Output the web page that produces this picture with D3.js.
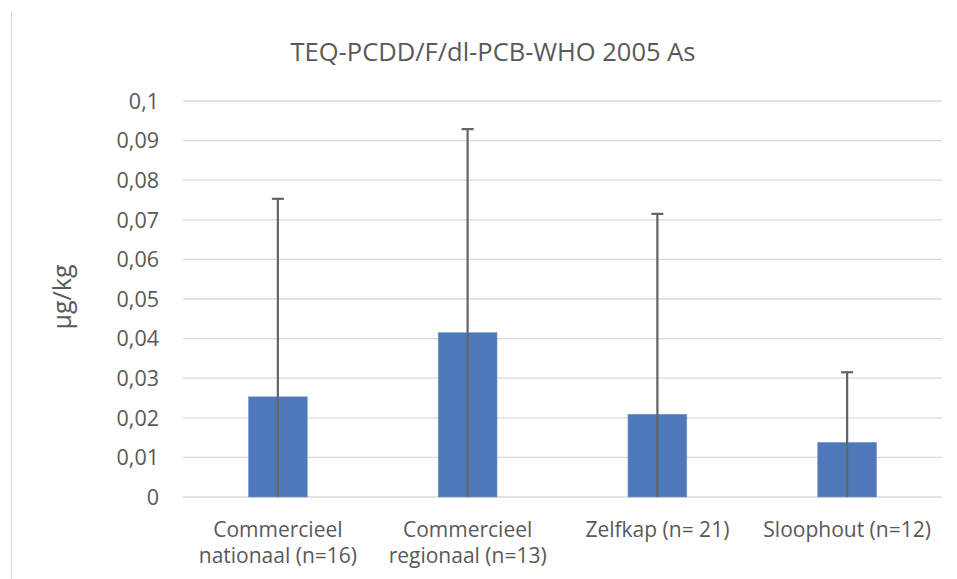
<!DOCTYPE html>
<html>
<head>
  <meta charset="utf-8">
  <script src="https://d3js.org/d3.v7.min.js"></script>
  <style>
    body { margin: 0; background: #fff; overflow: hidden; }
    text { font-family: "Open Sans", "Noto Sans", sans-serif; fill: #595959; }
  </style>
</head>
<body>
  <script>
    const categories = [
      ["Commercieel", "nationaal (n=16)"],
      ["Commercieel", "regionaal (n=13)"],
      ["Zelfkap (n= 21)"],
      ["Sloophout (n=12)"]
    ];
    const means = [0.0253, 0.0415, 0.0209, 0.0138];
    const upper = [0.0753, 0.0929, 0.0715, 0.0315];
    const yTicks = [0, 0.01, 0.02, 0.03, 0.04, 0.05, 0.06, 0.07, 0.08, 0.09, 0.1];

    const width = 957, height = 579;
    const margin = { top: 101, right: 15, bottom: 82, left: 183 };

    const svg = d3.select("body").append("svg")
      .attr("width", width)
      .attr("height", height);

    // faint border on the left
    svg.append("line")
      .attr("x1", 11.5).attr("x2", 11.5)
      .attr("y1", 12).attr("y2", height)
      .attr("stroke", "#d9d9d9")
      .attr("stroke-width", 1);

    const x = d3.scaleBand()
      .domain(d3.range(categories.length))
      .range([margin.left, width - margin.right])
      .paddingInner(0.69)
      .paddingOuter(0.345);

    const y = d3.scaleLinear()
      .domain([0, 0.1])
      .range([height - margin.bottom, margin.top]);

    // gridlines
    svg.append("g")
      .selectAll("line")
      .data(yTicks)
      .enter().append("line")
      .attr("x1", margin.left)
      .attr("x2", width - margin.right)
      .attr("y1", d => y(d))
      .attr("y2", d => y(d))
      .attr("stroke", "#d9d9d9")
      .attr("stroke-width", 1.3);

    // y tick labels
    svg.append("g")
      .selectAll("text")
      .data(yTicks)
      .enter().append("text")
      .attr("x", 159)
      .attr("y", d => y(d))
      .attr("dy", "0.36em")
      .attr("text-anchor", "end")
      .attr("font-size", "21.5px")
      .text(d => d === 0 ? "0" : String(+d.toFixed(2)).replace(".", ","));

    // bars
    svg.append("g")
      .selectAll("rect")
      .data(means)
      .enter().append("rect")
      .attr("x", (d, i) => x(i))
      .attr("width", x.bandwidth())
      .attr("y", d => y(d))
      .attr("height", d => y(0) - y(d))
      .attr("fill", "#4f78ba")
      .attr("stroke", "#7a9bd0")
      .attr("stroke-width", 0.6);

    // error bars
    const err = svg.append("g")
      .attr("stroke", "#646464")
      .attr("stroke-width", 2.2);
    err.selectAll("line.v")
      .data(upper)
      .enter().append("line")
      .attr("class", "v")
      .attr("x1", (d, i) => x(i) + x.bandwidth() / 2)
      .attr("x2", (d, i) => x(i) + x.bandwidth() / 2)
      .attr("y1", y(0))
      .attr("y2", d => y(d));
    err.selectAll("line.cap")
      .data(upper)
      .enter().append("line")
      .attr("class", "cap")
      .attr("x1", (d, i) => x(i) + x.bandwidth() / 2 - 6)
      .attr("x2", (d, i) => x(i) + x.bandwidth() / 2 + 6)
      .attr("y1", d => y(d))
      .attr("y2", d => y(d));

    // x labels
    const xl = svg.append("g")
      .selectAll("text")
      .data(categories)
      .enter().append("text")
      .attr("text-anchor", "middle")
      .attr("font-size", "21px")
      .attr("x", (d, i) => x(i) + x.bandwidth() / 2)
      .attr("y", 537);
    xl.selectAll("tspan")
      .data(d => d)
      .enter().append("tspan")
      .attr("x", function () { return d3.select(this.parentNode).attr("x"); })
      .attr("dy", (d, i) => i === 0 ? 0 : 26)
      .text(d => d);

    // title
    svg.append("text")
      .attr("x", 493)
      .attr("y", 61)
      .attr("text-anchor", "middle")
      .attr("font-size", "25.5px")
      .text("TEQ-PCDD/F/dl-PCB-WHO 2005 As");

    // y axis title
    svg.append("text")
      .attr("transform", "translate(71,297) rotate(-90)")
      .attr("text-anchor", "middle")
      .attr("font-size", "25px")
      .text("µg/kg");
  </script>
</body>
</html>
